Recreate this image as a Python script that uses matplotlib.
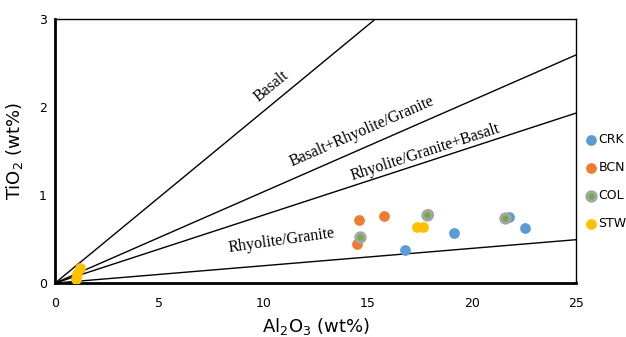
import numpy as np
import matplotlib.pyplot as plt

# Данные (Al2O3, TiO2)
crk_x = [16.8, 19.15, 21.8, 22.55]
crk_y = [0.37, 0.57, 0.75, 0.62]
bcn_x = [14.6, 15.8, 14.5, 17.9]
bcn_y = [0.72, 0.76, 0.44, 0.78]
col_x = [14.65, 17.85, 21.6]
col_y = [0.52, 0.77, 0.74]
stw_x = [17.35, 17.65, 1.2, 1.05, 1.0]
stw_y = [0.64, 0.64, 0.17, 0.10, 0.05]

# Наклоны разграничительных линий TiO2/Al2O3
line_slopes = [0.195, 0.1036, 0.0772, 0.0197]
line_labels = ["Basalt", "Basalt+Rhyolite/Granite", "Rhyolite/Granite+Basalt", "Rhyolite/Granite"]
label_pos = [(10.4, 2.24), (14.75, 1.72), (17.75, 1.49), (10.85, 0.48)]
label_rot = [39.5, 23.5, 18.0, 8.0]

fig = plt.figure(figsize=(6.26, 3.37), dpi=100)
ax = fig.add_axes([0.088, 0.160, 0.832, 0.784])

xs = np.array([0, 25])
for k in line_slopes:
    ax.plot(xs, k * xs, color='black', lw=1.0, zorder=1)

for text, (tx, ty), rot in zip(line_labels, label_pos, label_rot):
    ax.text(tx, ty, text, rotation=rot, rotation_mode='anchor', ha='center', va='center',
            family='Liberation Serif', fontsize=11.5, zorder=2)

ms = 45
ax.scatter(crk_x, crk_y, s=ms, color='#5B9BD5', label='CRK', zorder=3)
ax.scatter(bcn_x, bcn_y, s=ms, color='#ED7D31', label='BCN', zorder=3)
ax.scatter(col_x, col_y, s=ms, color='#70AD47', edgecolors='#A5A5A5', linewidths=2.2,
           label='COL', zorder=4)
ax.scatter(stw_x, stw_y, s=ms, color='#FFC000', label='STW', zorder=3)

ax.set_xlim(0, 25)
ax.set_ylim(0, 3)
ax.set_xticks([0, 5, 10, 15, 20, 25])
ax.set_yticks([0, 1, 2, 3])
ax.tick_params(length=0, labelsize=9)
ax.tick_params(axis='x', pad=10)
ax.tick_params(axis='y', pad=6)
for side in ['left', 'bottom']:
    ax.spines[side].set_linewidth(2)
for side in ['top', 'right']:
    ax.spines[side].set_linewidth(1)

ax.set_xlabel("Al$_2$O$_3$ (wt%)", fontsize=13, labelpad=4)
ax.set_ylabel("TiO$_2$ (wt%)", fontsize=13, labelpad=10)

ax.legend(loc='center left', bbox_to_anchor=(1.0, 0.133, 0.1, 0.5), frameon=False,
          fontsize=9, handletextpad=0.1, handlelength=1.0, labelspacing=1.2,
          borderaxespad=0.3)

fig.savefig("out.png", dpi=100)
